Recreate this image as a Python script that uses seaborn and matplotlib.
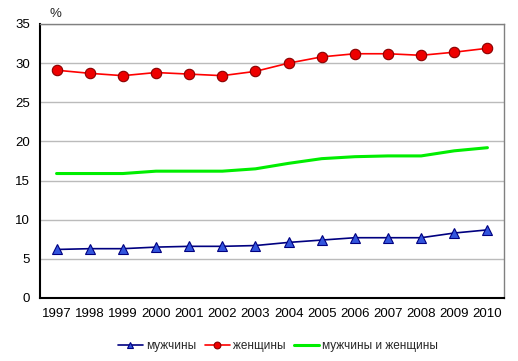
import matplotlib
matplotlib.use("Agg")
import matplotlib.pyplot as plt
import seaborn as sns
import pandas as pd

years = ["1997", "1998", "1999", "2000", "2001", "2002", "2003",
         "2004", "2005", "2006", "2007", "2008", "2009", "2010"]
men = [6.2, 6.3, 6.3, 6.5, 6.6, 6.6, 6.7, 7.1, 7.4, 7.7, 7.7, 7.7, 8.3, 8.7]
women = [29.1, 28.7, 28.4, 28.8, 28.6, 28.4, 28.95, 30.0, 30.8, 31.2, 31.2, 31.0, 31.4, 31.9]
both = [15.9, 15.9, 15.9, 16.2, 16.2, 16.2, 16.5, 17.2, 17.8, 18.05, 18.15, 18.15, 18.8, 19.2]
labels = ["мужчины", "женщины", "мужчины и женщины"]
yticks = [0, 5, 10, 15, 20, 25, 30, 35]

sns.set_style("white")
plt.rcParams["font.family"] = ["Liberation Sans", "DejaVu Sans"]

fig = plt.figure(figsize=(5.18, 3.61), dpi=100)
ax = fig.add_axes([40 / 518, 1 - 298 / 361, 464 / 518, 274 / 361])

idx = list(range(len(years)))
df = pd.DataFrame({"x": idx, "men": men, "women": women, "both": both})

sns.lineplot(data=df, x="x", y="men", ax=ax, color="#000080", lw=1.2,
             marker="^", markersize=7.5, markerfacecolor="#3355DD",
             markeredgecolor="#000080", markeredgewidth=0.8, label=labels[0])
sns.lineplot(data=df, x="x", y="women", ax=ax, color="#FF0000", lw=1.2,
             marker="o", markersize=7.5, markerfacecolor="#EE0000",
             markeredgecolor="#880000", markeredgewidth=0.8, label=labels[1])
sns.lineplot(data=df, x="x", y="both", ax=ax, color="#00EE00", lw=2.2,
             label=labels[2])

ax.set_xlim(-0.5, len(years) - 0.5)
ax.set_ylim(0, 35)
ax.set_xticks(idx)
ax.set_xticklabels(years)
ax.set_yticks(yticks)
ax.set_xlabel("")
ax.set_ylabel("")
ax.tick_params(axis="both", length=0, labelsize=9.5, colors="black")
ax.tick_params(axis="x", pad=7)
ax.tick_params(axis="y", pad=7)
ax.yaxis.grid(True, color="#BBBBBB", lw=1)
ax.set_axisbelow(True)
for s in ["top", "right"]:
    ax.spines[s].set_color("#808080")
    ax.spines[s].set_linewidth(1)
for s in ["left", "bottom"]:
    ax.spines[s].set_color("black")
    ax.spines[s].set_linewidth(1.5)

ax.text(10 / 464, 1.015, "%", transform=ax.transAxes, fontsize=9.5,
        ha="left", va="bottom")

ax.legend(loc="center", bbox_to_anchor=(0.513, -0.175), ncol=3, frameon=False,
          fontsize=8.5, handlelength=2.1, columnspacing=0.7, handletextpad=0.3,
          markerscale=0.65)

fig.savefig("out.png", dpi=100)
